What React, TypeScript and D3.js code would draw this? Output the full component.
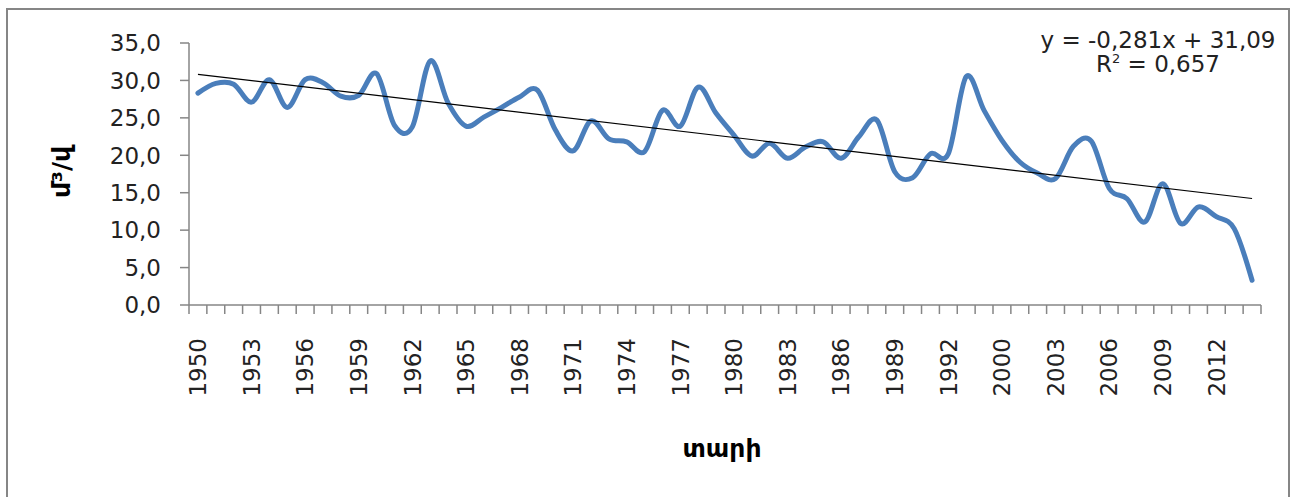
import React from "react";
import * as d3 from "d3";

// Annual mean discharge, m³/s
const years: string[] = [
  "1950", "1951", "1952", "1953", "1954", "1955", "1956", "1957", "1958", "1959",
  "1960", "1961", "1962", "1963", "1964", "1965", "1966", "1967", "1968", "1969",
  "1970", "1971", "1972", "1973", "1974", "1975", "1976", "1977", "1978", "1979",
  "1980", "1981", "1982", "1983", "1984", "1985", "1986", "1987", "1988", "1989",
  "1990", "1991", "1992", "1993", "1999", "2000", "2001", "2002", "2003", "2004",
  "2005", "2006", "2007", "2008", "2009", "2010", "2011", "2012", "2013", "2014",
];

const discharge: number[] = [
  28.3, 29.6, 29.5, 27.1, 30.1, 26.4, 30.1, 29.7, 27.9, 28.0,
  30.9, 24.0, 23.8, 32.6, 27.0, 23.9, 25.1, 26.4, 27.8, 28.7,
  23.4, 20.6, 24.6, 22.2, 21.8, 20.5, 26.0, 23.9, 29.1, 25.6,
  22.7, 19.9, 21.6, 19.6, 21.1, 21.8, 19.6, 22.5, 24.7, 17.8,
  17.0, 20.2, 20.2, 30.5, 26.0, 22.0, 19.1, 17.6, 16.9, 21.2,
  21.9, 15.6, 14.2, 11.1, 16.2, 10.9, 13.1, 11.8, 10.2, 3.3,
];

const yTicks: number[] = [0, 5, 10, 15, 20, 25, 30, 35];

// Linear trend: y = slope * x + intercept, x = 1..n
const trendSlope = -0.281;
const trendIntercept = 31.09;
const trendR2 = 0.657;

const W = 1294;
const H = 497;
const plot = { left: 189, right: 1261, top: 43, bottom: 305 };
const axisColor = "#868686";
const lineColor = "#4a7ebb";
const font = "'DejaVu Sans', sans-serif";

const fmt = (v: number, digits: number) => v.toFixed(digits).replace(".", ",");

export default function App() {
  const x = d3.scaleBand<string>().domain(years).range([plot.left, plot.right]).padding(0);
  const y = d3.scaleLinear().domain([0, 35]).range([plot.bottom, plot.top]);
  const cx = (yr: string) => (x(yr) ?? 0) + x.bandwidth() / 2;

  const line = d3
    .line<number>()
    .x((_, i) => cx(years[i]))
    .y((d) => y(d))
    .curve(d3.curveCardinal.tension(0));

  const n = years.length;
  const trend = [1, n].map((k) => ({ px: cx(years[k - 1]), py: y(trendSlope * k + trendIntercept) }));

  const boundaries = d3.range(n + 1).map((i) => plot.left + i * x.bandwidth());

  return (
    <svg
      width={W}
      height={H}
      style={{ position: "absolute", left: 0, top: 0, background: "#fff" }}
      fontFamily={font}
    >
      <rect x={7} y={9} width={1282} height={H + 20} fill="#fff" stroke={axisColor} strokeWidth={2} />

      {/* y axis */}
      <line x1={plot.left} x2={plot.left} y1={plot.top} y2={plot.bottom} stroke={axisColor} strokeWidth={1.5} />
      {yTicks.map((t) => (
        <g key={t}>
          <line x1={plot.left - 9} x2={plot.left} y1={y(t)} y2={y(t)} stroke={axisColor} strokeWidth={1.5} />
          <text x={161} y={y(t)} dy="0.36em" textAnchor="end" fontSize={23} fill="#222">
            {fmt(t, 1)}
          </text>
        </g>
      ))}

      {/* x axis */}
      <line x1={plot.left} x2={plot.right} y1={plot.bottom} y2={plot.bottom} stroke={axisColor} strokeWidth={1.5} />
      {boundaries.map((bx, i) => (
        <line key={i} x1={bx} x2={bx} y1={plot.bottom} y2={plot.bottom + 9} stroke={axisColor} strokeWidth={1.5} />
      ))}
      {years.map((yr, i) =>
        i % 3 === 0 ? (
          <text
            key={yr}
            transform={`translate(${cx(yr)},${plot.bottom + 33}) rotate(-90)`}
            dy="0.36em"
            textAnchor="end"
            fontSize={23}
            fill="#222"
          >
            {yr}
          </text>
        ) : null
      )}

      {/* series */}
      <path d={line(discharge) ?? ""} fill="none" stroke={lineColor} strokeWidth={5} strokeLinecap="round" strokeLinejoin="round" />

      {/* trend line */}
      <line x1={trend[0].px} y1={trend[0].py} x2={trend[1].px} y2={trend[1].py} stroke="#000" strokeWidth={1.2} />

      {/* trend equation */}
      <text x={1158} y={48} textAnchor="middle" fontSize={23} fill="#222">
        {`y = ${fmt(trendSlope, 3)}x + ${fmt(trendIntercept, 2)}`}
      </text>
      <text x={1158} y={72} textAnchor="middle" fontSize={23} fill="#222">
        R<tspan fontSize={13} dy={-9}>2</tspan>
        <tspan dy={9}>{` = ${fmt(trendR2, 3)}`}</tspan>
      </text>

      {/* axis titles */}
      <text x={722} y={457} textAnchor="middle" fontSize={25} fontWeight="bold" fill="#000">
        տարի
      </text>
      <text transform="translate(61,172) rotate(-90)" dy="0.36em" textAnchor="middle" fontSize={25} fontWeight="bold" fill="#000">
        մ³/վ
      </text>
    </svg>
  );
}
